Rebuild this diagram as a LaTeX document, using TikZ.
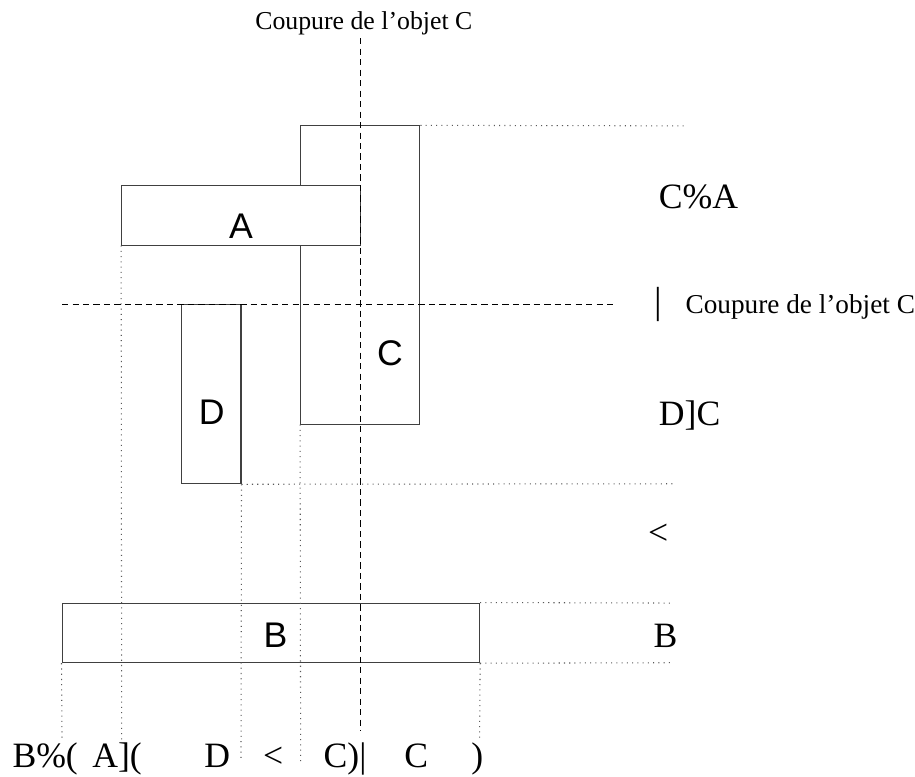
\documentclass[tikz,border=0pt]{standalone}
\usepackage{fontspec}
\setmainfont{Liberation Serif}
\setsansfont{Liberation Sans}
\usetikzlibrary{positioning}

\tikzset{
  objbox/.style={draw=black!75, line width=0.5pt, inner sep=0pt, fill=white},
  cutline/.style={dash pattern=on 3pt off 2pt, line width=0.6pt},
  guide/.style={dotted, black!65, line width=0.5pt},
  boxlabel/.style={font=\sffamily\fontsize{17}{20}\selectfont, inner sep=0pt, anchor=base},
  reslabel/.style={font=\fontsize{17}{20}\selectfont, inner sep=0pt},
  cutlabel/.style={inner sep=0pt, anchor=base},
}

\begin{document}
\begin{tikzpicture}[x=1cm,y=-1cm]
\useasboundingbox (-0.04,-0.11) rectangle (15.30,12.90);
% objects
\node[objbox, minimum width=2cm, minimum height=5cm] (C) at (6,4.5) {};
\node[objbox, minimum width=4cm, minimum height=1cm] (A) at (4,3.5) {};
\node[objbox, minimum width=1cm, minimum height=3cm] (D) at (3.5,6.5) {};
\node[objbox, fill=none, minimum width=7cm, minimum height=1cm] (B) at (4.5,10.5) {};
\node[boxlabel] (lA) at (4.0,3.88) {A};
\node[boxlabel] (lC) at (6.5,6.01) {C};
\node[boxlabel] (lD) at (3.51,7.0) {D};
\node[boxlabel] (lB) at (4.58,10.75) {B};
% cuts of C
\coordinate (cuttop) at (6,0.53);
\coordinate (cutbot) at (6,12.13);
\coordinate (cutleft) at (1,5);
\coordinate (cutright) at (10.3,5);
\draw[cutline] (cuttop) -- (cutbot);
\draw[cutline] (cutleft) -- (cutright);
\node[cutlabel, font=\fontsize{12.3}{14}\selectfont] (cutV) at (6.06,0.39) {Coupure de l’objet C};
\node[cutlabel, anchor=base west, font=\fontsize{13}{15}\selectfont] (cutH) at (10.93,5.14) {{\fontsize{18}{20}\selectfont|}\hspace{11.1pt}Coupure de l’objet C};
% guides
\foreach \name/\x/\y in {gC/11.45/2, gD/11.25/8, gBt/11.25/10, gBb/11.25/11,
  v1/1/12.3, v2/2/12.3, v4/4/12.66, v5/5/12.66, v8/8/12.3}
  \coordinate (\name) at (\x,\y);
\foreach \from/\to in {C.north east/gC, D.south east/gD, B.north east/gBt,
  B.south east/gBb, B.south west/v1, A.south west/v2, D.south east/v4,
  C.south west/v5, B.south east/v8}
  \draw[guide] (\from) -- (\to);
% relations on the right
\node[reslabel, anchor=base west] (rCA) at (11,3.38) {C\%A};
\node[reslabel, anchor=base west] (rDC) at (11,7.02) {D]C};
\node[reslabel, anchor=base west] (rlt) at (10.82,9.01) {<};
\node[reslabel, anchor=base west] (rB) at (10.91,10.75) {B};
% sequence at the bottom
\node[reslabel, anchor=base west] (s1) at (0.163,12.75) {B\%(};
\node[reslabel, anchor=base west] (s2) at (1.50,12.75) {A](};
\node[reslabel, anchor=base] (s3) at (3.60,12.75) {D};
\node[reslabel, anchor=base] (s4) at (4.54,12.75) {<};
\node[reslabel, anchor=base west] (s5) at (5.38,12.75) {C)|};
\node[reslabel, anchor=base] (s6) at (6.94,12.75) {C};
\node[reslabel, anchor=base] (s7) at (7.96,12.75) {)};
\end{tikzpicture}
\end{document}
